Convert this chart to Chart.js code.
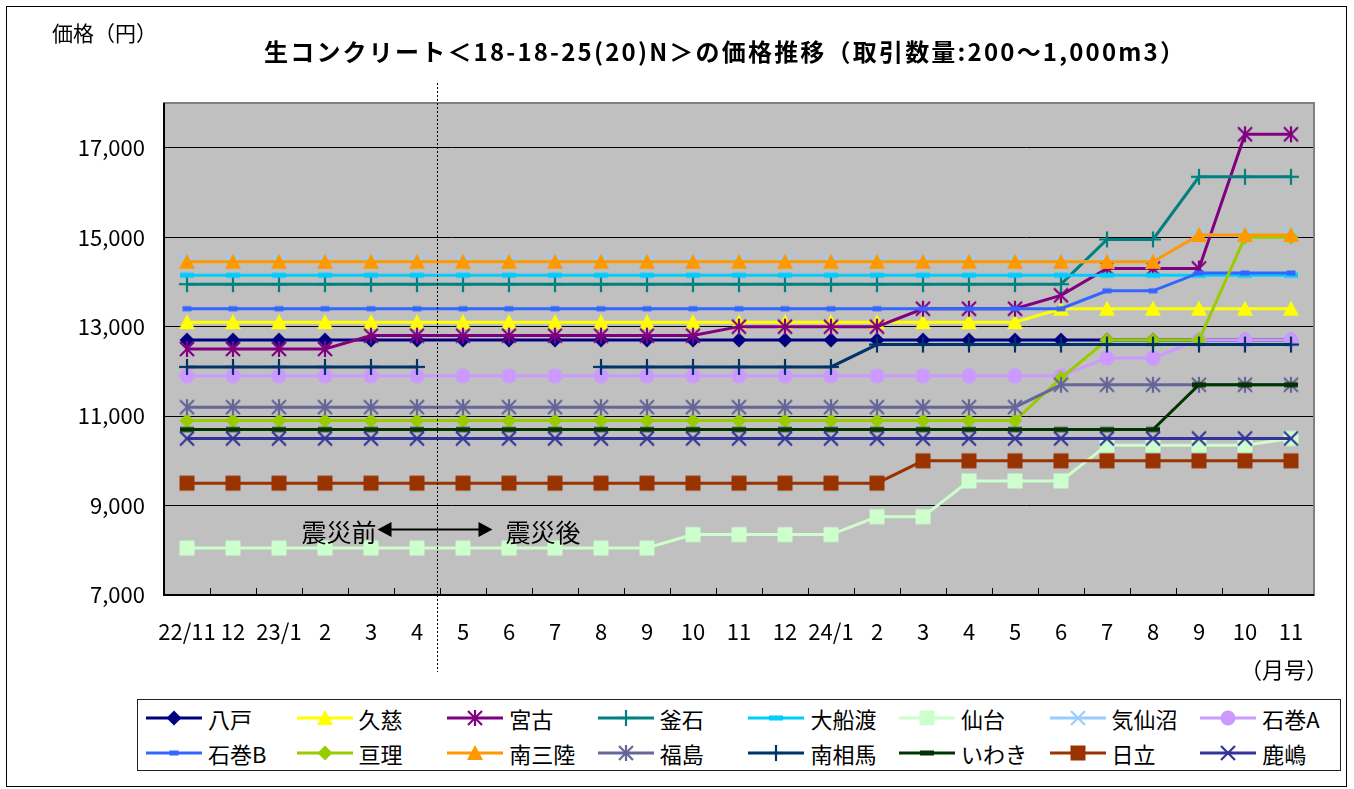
<!DOCTYPE html>
<html><head><meta charset="utf-8">
<script src="https://cdn.jsdelivr.net/npm/chart.js@4.4.0/dist/chart.umd.min.js"></script>
<style>
html,body{margin:0;padding:0;background:#fff;}
#wrap{position:relative;width:1354px;height:789px;overflow:hidden;font-family:"Noto Sans CJK JP","Noto Sans",sans-serif;}
#frame{position:absolute;left:6px;top:6px;width:1341px;height:781px;border:1px solid #000;box-sizing:border-box;}
#c{position:absolute;left:0;top:0;}
.t{position:absolute;white-space:nowrap;color:#000;line-height:1;}
#legend{position:absolute;left:137px;top:699px;width:1204px;height:72px;border:1px solid #222;box-sizing:border-box;background:#fff;}
.li{position:absolute;height:26px;display:flex;align-items:center;}
.li canvas{display:block;}
.li span{font-size:22px;margin-left:6px;line-height:1;}
</style></head>
<body><div id="wrap">
<div id="frame"></div>
<canvas id="c" width="1354" height="789"></canvas>
<div class="t" id="ylab" style="left:52px;top:22px;font-size:21px;">価格（円）</div>
<div class="t" id="title" style="left:264px;top:39px;font-size:24px;font-weight:bold;">生コンクリート＜18-18-25(20)N＞の価格推移（取引数量:200～1,000m3）</div>
<div class="t" id="unit" style="left:1240px;top:657px;font-size:22px;">（月号）</div>
<div id="legend"></div>
</div>
<script>
// ---- data ----
const categories = ['22/11','12','23/1','2','3','4','5','6','7','8','9','10','11','12','24/1','2','3','4','5','6','7','8','9','10','11'];
const yTicks = [7000, 9000, 11000, 13000, 15000, 17000];
const yTickLabels = ['7,000', '9,000', '11,000', '13,000', '15,000', '17,000'];
const seriesNames = ['八戸','久慈','宮古','釜石','大船渡','仙台','気仙沼','石巻A','石巻B','亘理','南三陸','福島','南相馬','いわき','日立','鹿嶋'];

const hachinohe = [12700,12700,12700,12700,12700,12700,12700,12700,12700,12700,12700,12700,12700,12700,12700,12700,12700,12700,12700,12700,12700,12700,12700,12700,12700];
const kuji = [13100,13100,13100,13100,13100,13100,13100,13100,13100,13100,13100,13100,13100,13100,13100,13100,13100,13100,13100,13400,13400,13400,13400,13400,13400];
const miyako = [12500,12500,12500,12500,12800,12800,12800,12800,12800,12800,12800,12800,13000,13000,13000,13000,13400,13400,13400,13700,14300,14300,14300,17300,17300];
const kamaishi = [13950,13950,13950,13950,13950,13950,13950,13950,13950,13950,13950,13950,13950,13950,13950,13950,13950,13950,13950,13950,14950,14950,16350,16350,16350];
const ofunato = [14150,14150,14150,14150,14150,14150,14150,14150,14150,14150,14150,14150,14150,14150,14150,14150,14150,14150,14150,14150,14150,14150,14150,14150,14150];
const sendai = [8050,8050,8050,8050,8050,8050,8050,8050,8050,8050,8050,8350,8350,8350,8350,8750,8750,9550,9550,9550,10350,10350,10350,10350,10500];
const kesennuma = [14450,14450,14450,14450,14450,14450,14450,14450,14450,14450,14450,14450,14450,14450,14450,14450,14450,14450,14450,14450,14450,14450,15050,15050,15050];
const ishinomakiA = [11900,11900,11900,11900,11900,11900,11900,11900,11900,11900,11900,11900,11900,11900,11900,11900,11900,11900,11900,11900,12300,12300,12700,12700,12700];
const ishinomakiB = [13400,13400,13400,13400,13400,13400,13400,13400,13400,13400,13400,13400,13400,13400,13400,13400,13400,13400,13400,13400,13800,13800,14200,14200,14200];
const watari = [10900,10900,10900,10900,10900,10900,10900,10900,10900,10900,10900,10900,10900,10900,10900,10900,10900,10900,10900,11850,12700,12700,12700,15000,15000];
const minamisanriku = [14450,14450,14450,14450,14450,14450,14450,14450,14450,14450,14450,14450,14450,14450,14450,14450,14450,14450,14450,14450,14450,14450,15050,15050,15050];
const fukushima = [11200,11200,11200,11200,11200,11200,11200,11200,11200,11200,11200,11200,11200,11200,11200,11200,11200,11200,11200,11700,11700,11700,11700,11700,11700];
const minamisoma = [12100,12100,12100,12100,12100,12100,null,null,null,12100,12100,12100,12100,12100,12100,12600,12600,12600,12600,12600,12600,12600,12600,12600,12600];
const iwaki = [10700,10700,10700,10700,10700,10700,10700,10700,10700,10700,10700,10700,10700,10700,10700,10700,10700,10700,10700,10700,10700,10700,11700,11700,11700];
const hitachi = [9500,9500,9500,9500,9500,9500,9500,9500,9500,9500,9500,9500,9500,9500,9500,9500,10000,10000,10000,10000,10000,10000,10000,10000,10000];
const kashima = [10500,10500,10500,10500,10500,10500,10500,10500,10500,10500,10500,10500,10500,10500,10500,10500,10500,10500,10500,10500,10500,10500,10500,10500,10500];

const seriesValues = [hachinohe,kuji,miyako,kamaishi,ofunato,sendai,kesennuma,ishinomakiA,ishinomakiB,watari,minamisanriku,fukushima,minamisoma,iwaki,hitachi,kashima];

// ---- styles ----
const seriesColors = ['#000080','#FFFF00','#800080','#008080','#00CCFF','#CCFFCC','#99CCFF','#CC99FF','#3366FF','#99CC00','#FF9900','#666699','#003366','#003300','#993300','#333399'];
const seriesMarkers = ['diamond','triangle','asterisk','plus','dashL','square','x','circle','dashS','diamond','triangle','asterisk','plus','dashL','square','x'];

function makeMarker(kind, color){
  const c = document.createElement('canvas');
  c.width = 20; c.height = 20;
  const g = c.getContext('2d');
  g.translate(10, 10);
  g.fillStyle = color; g.strokeStyle = color; g.lineWidth = 2.2; g.lineCap = 'butt';
  const line = (x1,y1,x2,y2)=>{g.beginPath();g.moveTo(x1,y1);g.lineTo(x2,y2);g.stroke();};
  switch(kind){
    case 'diamond':
      g.beginPath(); g.moveTo(0,-7.5); g.lineTo(7.5,0); g.lineTo(0,7.5); g.lineTo(-7.5,0); g.closePath(); g.fill(); break;
    case 'triangle':
      g.beginPath(); g.moveTo(0,-8); g.lineTo(8,7); g.lineTo(-8,7); g.closePath(); g.fill(); break;
    case 'square':
      g.fillRect(-7.5,-7.5,15,15); break;
    case 'circle':
      g.beginPath(); g.arc(0,0,7.5,0,Math.PI*2); g.fill(); break;
    case 'x':
      line(-7,-7,7,7); line(-7,7,7,-7); break;
    case 'plus':
      line(-8,0,8,0); line(0,-8,0,8); break;
    case 'asterisk':
      line(0,-8,0,8); line(-7,-7,7,7); line(-7,7,7,-7); break;
    case 'dashL':
      g.fillRect(-7,-2.5,14,5); break;
    case 'dashS':
      g.fillRect(-4.5,-2.5,9,5); break;
  }
  return c;
}
const markerImgs = seriesMarkers.map((m,i)=>makeMarker(m, seriesColors[i]));

const datasets = seriesNames.map((name,i)=>({
  label: name,
  data: seriesValues[i],
  borderColor: seriesColors[i],
  backgroundColor: seriesColors[i],
  borderWidth: 3,
  pointStyle: markerImgs[i],
  pointRadius: 7,
  pointHoverRadius: 7,
  tension: 0,
  spanGaps: false,
  order: seriesNames.length - i
}));

const FONT = '"Noto Sans CJK JP","Noto Sans",sans-serif';

const decor = {
  id: 'decor',
  beforeDraw(chart){
    const {ctx, chartArea:a} = chart;
    ctx.save();
    ctx.fillStyle = '#C0C0C0';
    ctx.fillRect(a.left, a.top, a.right-a.left, a.bottom-a.top);
    ctx.restore();
  },
  beforeDatasetsDraw(chart){
    const {ctx, chartArea:a} = chart;
    const xs = chart.scales.x;
    ctx.save();
    ctx.strokeStyle = '#808080'; ctx.lineWidth = 2;
    ctx.strokeRect(a.left, a.top, a.right-a.left, a.bottom-a.top);
    ctx.strokeStyle = '#000'; ctx.lineWidth = 2;
    ctx.beginPath(); ctx.moveTo(a.left, a.top); ctx.lineTo(a.left, a.bottom); ctx.lineTo(a.right, a.bottom); ctx.stroke();
    ctx.lineWidth = 1;
    const n = categories.length;
    const step = (a.right - a.left)/n;
    for(let i=1;i<n;i++){
      const x = Math.round(xs.getPixelForValue(i) - step/2) + 0.5;
      ctx.beginPath(); ctx.moveTo(x, a.bottom); ctx.lineTo(x, a.bottom-7); ctx.stroke();
    }
    ctx.restore();
  },
  afterDraw(chart){
    const {ctx, chartArea:a} = chart;
    const xs = chart.scales.x, ys = chart.scales.y;
    const bx = Math.round((xs.getPixelForValue(5) + xs.getPixelForValue(6))/2) - 2.5;
    ctx.save();
    // dotted separator
    ctx.strokeStyle = '#000'; ctx.lineWidth = 1; ctx.setLineDash([2,2]);
    ctx.beginPath(); ctx.moveTo(bx, a.top-20); ctx.lineTo(bx, a.bottom+77); ctx.stroke();
    ctx.setLineDash([]);
    // arrow
    const ay = Math.round(ys.getPixelForValue(8480)) + 0.5;
    const x1 = bx - 60, x2 = bx + 55;
    ctx.lineWidth = 2;
    ctx.beginPath(); ctx.moveTo(x1+10, ay); ctx.lineTo(x2-10, ay); ctx.stroke();
    ctx.fillStyle = '#000';
    ctx.beginPath(); ctx.moveTo(x1, ay); ctx.lineTo(x1+14, ay-7.5); ctx.lineTo(x1+14, ay+7.5); ctx.closePath(); ctx.fill();
    ctx.beginPath(); ctx.moveTo(x2, ay); ctx.lineTo(x2-14, ay-7.5); ctx.lineTo(x2-14, ay+7.5); ctx.closePath(); ctx.fill();
    ctx.font = '25px ' + FONT;
    ctx.textBaseline = 'middle';
    ctx.textAlign = 'right';
    ctx.fillText('震災前', x1 - 1, ay + 3);
    ctx.textAlign = 'left';
    ctx.fillText('震災後', x2 + 13, ay + 3);
    ctx.restore();
  }
};

const chart = new Chart(document.getElementById('c'), {
  type: 'line',
  data: { labels: categories, datasets },
  options: {
    responsive: false,
    animation: false,
    devicePixelRatio: 1,
    events: [],
    layout: { padding: { left: 0, top: 103, right: 40, bottom: 144 } },
    plugins: { legend: { display: false }, title: { display: false }, tooltip: { enabled: false } },
    scales: {
      x: {
        type: 'category',
        offset: true,
        grid: { display: false },
        border: { display: false },
        ticks: { autoSkip: false, maxRotation: 0, minRotation: 0, color: '#000', padding: 15, font: { family: FONT, size: 22 } },
        afterFit(s){ s.height = 50; }
      },
      y: {
        min: 7000, max: 18000,
        grid: { color: '#000', lineWidth: 1, drawTicks: false },
        border: { display: false },
        afterBuildTicks(s){ s.ticks = yTicks.map(v=>({value:v})); },
        ticks: { color: '#000', padding: 19, font: { family: FONT, size: 22 },
          callback(v){ const k = yTicks.indexOf(v); return k >= 0 ? yTickLabels[k] : ''; } },
        afterFit(s){ s.width = 164; }
      }
    }
  },
  plugins: [decor]
});

// ---- legend ----
const lg = document.getElementById('legend');
seriesNames.forEach((name,i)=>{
  const col = i % 8, row = Math.floor(i/8);
  const it = document.createElement('div');
  it.className = 'li';
  it.style.left = (8 + col*150.6) + 'px';
  it.style.top = (row === 0 ? 5 : 40) + 'px';
  const cv = document.createElement('canvas');
  cv.width = 56; cv.height = 26;
  const g = cv.getContext('2d');
  g.strokeStyle = seriesColors[i]; g.lineWidth = 3;
  g.beginPath(); g.moveTo(0,13); g.lineTo(56,13); g.stroke();
  g.drawImage(markerImgs[i], 28-10, 13-10);
  const sp = document.createElement('span');
  sp.textContent = name;
  it.appendChild(cv); it.appendChild(sp);
  lg.appendChild(it);
});

// fit title width to reference span
const t = document.getElementById('title');
const target = 922;
const w = t.getBoundingClientRect().width;
const chars = t.textContent.length;
if (w < target) t.style.letterSpacing = ((target - w)/chars).toFixed(2) + 'px';
</script>
</body></html>
